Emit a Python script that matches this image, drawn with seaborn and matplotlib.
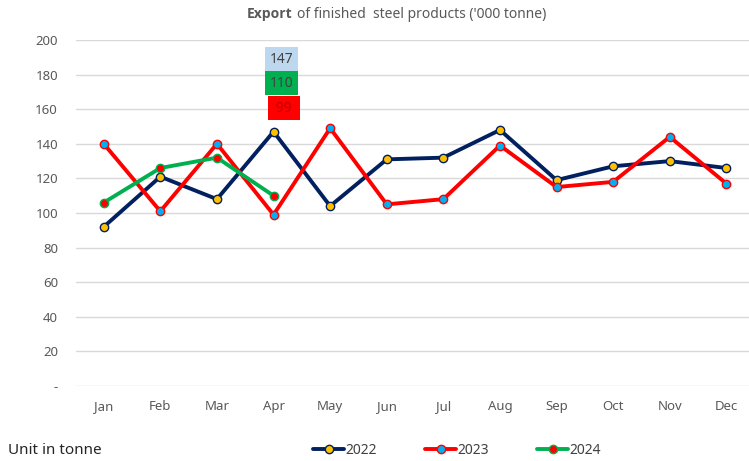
import matplotlib
matplotlib.use("Agg")
import matplotlib.pyplot as plt
import seaborn as sns
import pandas as pd

months = ["Jan", "Feb", "Mar", "Apr", "May", "Jun", "Jul", "Aug", "Sep", "Oct", "Nov", "Dec"]
y2022 = [92, 121, 108, 147, 104, 131, 132, 148, 119, 127, 130, 126]
y2023 = [140, 101, 140, 99, 149, 105, 108, 139, 115, 118, 144, 117]
y2024 = [106, 126, 132, 110]
yticks = [0, 20, 40, 60, 80, 100, 120, 140, 160, 180, 200]
ytick_labels = ["-", "20", "40", "60", "80", "100", "120", "140", "160", "180", "200"]

sns.set_style("white")
plt.rcParams['font.family'] = ['Noto Sans', 'DejaVu Sans']

fig = plt.figure(figsize=(7.49, 4.61), dpi=100)
ax = fig.add_axes([76 / 749, 75 / 461, 673 / 749, 346 / 461])

series = [
    ("2022", y2022, "#002060", "#ffc000"),
    ("2023", y2023, "#ff0000", "#00b0f0"),
    ("2024", y2024, "#00b050", "#ff0000"),
]
for name, vals, col, face in series:
    df = pd.DataFrame({"x": list(range(len(vals))), "y": vals})
    sns.lineplot(data=df, x="x", y="y", ax=ax, color=col, lw=2.8, marker="o",
                 markersize=6, markerfacecolor=face, markeredgecolor=col,
                 markeredgewidth=1.0, label=name, zorder=3)

ax.set_xlim(-0.49, 11.40)
ax.set_ylim(0, 200)
ax.set_xticks(range(len(months)))
ax.set_xticklabels(months, color="#595959", fontsize=9.5)
ax.set_yticks(yticks)
ax.set_yticklabels(ytick_labels, color="#595959", fontsize=9.5)
ax.tick_params(axis="x", length=0, pad=10)
ax.tick_params(axis="y", length=0, pad=13)
ax.set_xlabel("")
ax.set_ylabel("")
ax.grid(axis="y", color="#d9d9d9", lw=1)
for s in ax.spines.values():
    s.set_visible(False)

# data labels for April
apr = 3
ax.text(apr + 0.14, 189, str(y2022[apr]), ha="center", va="center", fontsize=10, color="#404040",
        bbox=dict(boxstyle="square,pad=0.32", fc="#bdd7ee", ec="none"))
ax.text(apr + 0.14, 175, str(y2024[apr]), ha="center", va="center", fontsize=10, color="#404040",
        bbox=dict(boxstyle="square,pad=0.32", fc="#00b050", ec="none"))
ax.text(apr + 0.18, 160.5, " " + str(y2023[apr]) + " ", ha="center", va="center", fontsize=10,
        color="#c00000", bbox=dict(boxstyle="square,pad=0.32", fc="#ff0000", ec="none"))

fig.text(293 / 749, 1 - 14 / 461, "Export", ha="right", va="center", fontsize=10,
         color="#595959", fontweight="bold", family=["Open Sans", "DejaVu Sans"])
fig.text(297 / 749, 1 - 14 / 461, "of finished  steel products ('000 tonne)", ha="left",
         va="center", fontsize=10, color="#595959")

fig.text(8 / 749, 1 - 450 / 461, "Unit in tonne", ha="left", va="center", fontsize=11,
         color="#262626")

handles, labels = ax.get_legend_handles_labels()
ax.legend_.remove()
fig.legend(handles, labels, loc="center", bbox_to_anchor=(457 / 749, 1 - 450 / 461), ncol=3,
           frameon=False, fontsize=10, handlelength=2.2, handletextpad=0.1, columnspacing=3.5,
           labelcolor="#404040")

fig.savefig("out.png", dpi=100)
